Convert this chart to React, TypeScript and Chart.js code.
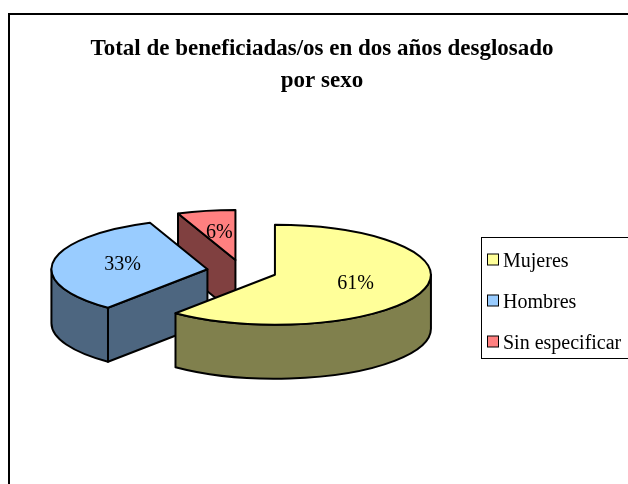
import React, { useEffect, useRef } from 'react';
import { Chart, registerables } from 'chart.js';

Chart.register(...registerables);

// ---- data ----
const categories = ['Mujeres', 'Hombres', 'Sin especificar'];
const values = [61, 33, 6];
const titleLines = ['Total de beneficiadas/os en dos años desglosado', 'por sexo'];

// ---- style ----
const topColors = ['#FFFF99', '#99CCFF', '#FF8080'];
const sideColors = ['#80804D', '#4D6680', '#804040'];

const W = 628;
const H = 484;
const FONT = '"Liberation Serif", "Times New Roman", serif';
const TILT = 0.32; // vertical squash of the pie
const EXPLODE = 35; // explosion distance
const DEPTH = 54; // thickness of the 3D pie
const RADIUS = 156;
const LABEL_POS = 0.55;

function sliceGeom(arc: any) {
  const p = arc.getProps(['x', 'y', 'startAngle', 'endAngle', 'outerRadius'], true);
  const m = (p.startAngle + p.endAngle) / 2;
  const cx = p.x + EXPLODE * Math.cos(m);
  const cy = p.y + EXPLODE * Math.sin(m) * TILT;
  return { ...p, m, cx, cy, r: p.outerRadius, ry: p.outerRadius * TILT };
}

const pie3dPlugin = {
  id: 'pie3d',
  beforeDraw(chart: any) {
    const { ctx, width, height } = chart;
    ctx.save();
    ctx.fillStyle = '#ffffff';
    ctx.fillRect(0, 0, width, height);
    ctx.strokeStyle = '#000000';
    ctx.lineWidth = 2;
    ctx.beginPath();
    ctx.moveTo(9, height + 4);
    ctx.lineTo(9, 14);
    ctx.lineTo(width + 4, 14);
    ctx.stroke();
    ctx.restore();
  },
  beforeDatasetsDraw(chart: any) {
    const ctx = chart.ctx;
    const arcs = chart.getDatasetMeta(0).data;
    const order = arcs
      .map((_: any, i: number) => i)
      .sort((a: number, b: number) => {
        const ma = (arcs[a].startAngle + arcs[a].endAngle) / 2;
        const mb = (arcs[b].startAngle + arcs[b].endAngle) / 2;
        return Math.sin(ma) - Math.sin(mb);
      });
    ctx.save();
    ctx.lineWidth = 2;
    ctx.lineJoin = 'round';
    ctx.strokeStyle = '#000000';
    for (const i of order) {
      const arc = arcs[i];
      const g = sliceGeom(arc);
      const s = g.startAngle;
      const e = g.endAngle;
      ctx.fillStyle = sideColors[i];
      // outer curved wall (front half only)
      for (let n = -1; n <= 1; n++) {
        const lo = Math.max(s, 2 * Math.PI * n);
        const hi = Math.min(e, 2 * Math.PI * n + Math.PI);
        if (hi - lo > 1e-4) {
          ctx.beginPath();
          ctx.ellipse(g.cx, g.cy, g.r, g.ry, 0, lo, hi, false);
          ctx.ellipse(g.cx, g.cy + DEPTH, g.r, g.ry, 0, hi, lo, true);
          ctx.closePath();
          ctx.fill();
          ctx.stroke();
        }
      }
      const radial = (a: number) => {
        const px = g.cx + g.r * Math.cos(a);
        const py = g.cy + g.ry * Math.sin(a);
        ctx.beginPath();
        ctx.moveTo(g.cx, g.cy);
        ctx.lineTo(px, py);
        ctx.lineTo(px, py + DEPTH);
        ctx.lineTo(g.cx, g.cy + DEPTH);
        ctx.closePath();
        ctx.fill();
        ctx.stroke();
      };
      if (Math.cos(s) < -1e-3) radial(s);
      if (Math.cos(e) > 1e-3) radial(e);
      // top face drawn by the library's arc element, projected
      ctx.save();
      ctx.translate(g.cx, g.cy);
      ctx.scale(1, TILT);
      ctx.translate(-g.x, -g.y);
      arc.draw(ctx);
      ctx.restore();
      ctx.beginPath();
      ctx.moveTo(g.cx, g.cy);
      ctx.ellipse(g.cx, g.cy, g.r, g.ry, 0, s, e, false);
      ctx.closePath();
      ctx.stroke();
    }
    ctx.restore();
    return false;
  },
  afterDraw(chart: any) {
    const ctx = chart.ctx;
    const arcs = chart.getDatasetMeta(0).data;
    const total = values.reduce((a, b) => a + b, 0);
    ctx.save();
    // slice labels
    ctx.fillStyle = '#000000';
    ctx.font = `20px ${FONT}`;
    ctx.textAlign = 'center';
    ctx.textBaseline = 'middle';
    arcs.forEach((arc: any, i: number) => {
      const g = sliceGeom(arc);
      const lx = g.cx + LABEL_POS * g.r * Math.cos(g.m);
      const ly = g.cy + LABEL_POS * g.ry * Math.sin(g.m);
      ctx.fillText(Math.round((values[i] * 100) / total) + '%', lx, ly);
    });
    // title
    ctx.font = `bold 23px ${FONT}`;
    ctx.textBaseline = 'alphabetic';
    titleLines.forEach((t, i) => ctx.fillText(t, 322, 55 + i * 32));
    // legend
    ctx.lineWidth = 1;
    ctx.strokeStyle = '#000000';
    ctx.strokeRect(481.5, 237.5, 220, 121);
    ctx.font = `20px ${FONT}`;
    ctx.textAlign = 'left';
    categories.forEach((c, i) => {
      const rowY = 259.5 + i * 41;
      ctx.fillStyle = topColors[i];
      ctx.fillRect(487.5, rowY - 5.5, 11, 11);
      ctx.strokeRect(487.5, rowY - 5.5, 11, 11);
      ctx.fillStyle = '#000000';
      ctx.fillText(c, 503, rowY + 7.5);
    });
    ctx.restore();
  },
};

export default function App() {
  const ref = useRef<HTMLCanvasElement | null>(null);
  useEffect(() => {
    if (!ref.current) return;
    const chart = new Chart(ref.current, {
      type: 'pie',
      data: {
        labels: categories,
        datasets: [
          {
            data: values,
            backgroundColor: topColors,
            borderWidth: 0,
            radius: RADIUS,
          } as any,
        ],
      },
      options: {
        responsive: false,
        animation: false,
        events: [],
        layout: { padding: { left: 0, right: 144, top: 58, bottom: 0 } },
        plugins: {
          legend: { display: false },
          title: { display: false },
          tooltip: { enabled: false },
        },
      },
      plugins: [pie3dPlugin as any],
    });
    return () => chart.destroy();
  }, []);
  return (
    <div style={{ position: 'absolute', left: 0, top: 0, width: W, height: H }}>
      <canvas ref={ref} width={W} height={H} style={{ display: 'block' }} />
    </div>
  );
}
